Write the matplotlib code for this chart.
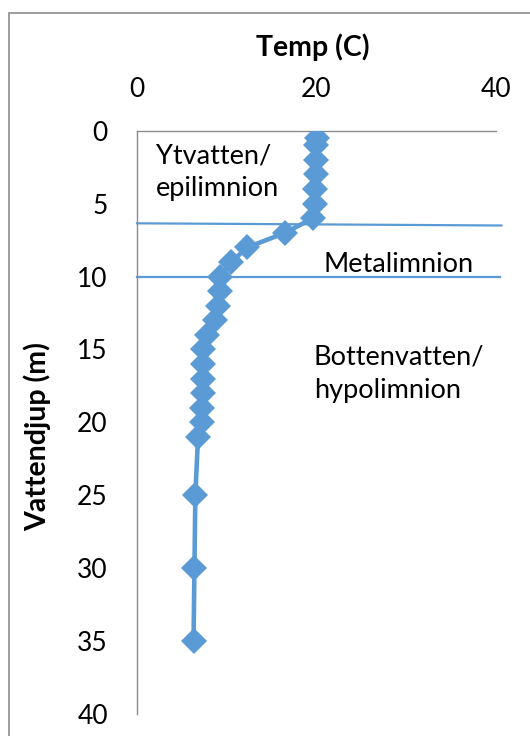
import matplotlib
matplotlib.use("Agg")
import matplotlib.pyplot as plt
from matplotlib.patches import Rectangle

plt.rcParams["font.family"] = ["Lato", "DejaVu Sans"]

# Temperature profile (depth in m, temperature in C)
depth = [0.5, 1, 2, 3, 4, 5, 6, 7, 8, 9, 10, 11, 12, 13, 14, 15, 16, 17, 18,
         19, 20, 21, 25, 30, 35]
temp = [20.0, 19.9, 19.9, 19.9, 19.8, 19.8, 19.6, 16.5, 12.3, 10.5, 9.2, 9.3,
        9.0, 8.7, 7.8, 7.4, 7.4, 7.3, 7.3, 7.2, 7.2, 6.8, 6.5, 6.4, 6.3]

# Layer boundaries drawn across the plot (start depth, end depth)
upper_boundary = (6.35, 6.5)
lower_boundary = (10.0, 10.0)

xticks = [0, 20, 40]
yticks = [0, 5, 10, 15, 20, 25, 30, 35, 40]

blue = "#5B9BD5"
grey = "#8C8C8C"

fig = plt.figure(figsize=(5.3, 7.36), dpi=100)
ax = fig.add_axes([0.2585, 0.0299, 0.6774, 0.7925])

ax.plot(temp, depth, color=blue, lw=3.3, marker="D", ms=13.5,
        mec=blue, mfc=blue, mew=0, zorder=3)

ax.plot([0, 40.6], upper_boundary, color=blue, lw=1.6, clip_on=False)
ax.plot([0, 40.4], lower_boundary, color=blue, lw=1.6, clip_on=False)

ax.set_xlim(0, 40)
ax.set_ylim(40, 0)
ax.set_xticks(xticks)
ax.set_yticks(yticks)
ax.xaxis.tick_top()
ax.xaxis.set_label_position("top")
ax.tick_params(length=0, labelsize=19, pad=21)

ax.set_xlabel("Temp (C)", fontsize=20.5, fontweight="bold", va="center")
ax.xaxis.set_label_coords(0.49, 1.143)
ax.set_ylabel("Vattendjup (m)", fontsize=20.5, fontweight="bold", va="center")
ax.yaxis.set_label_coords(-0.277, 0.475)

for side in ["right", "bottom"]:
    ax.spines[side].set_visible(False)
for side in ["left", "top"]:
    ax.spines[side].set_color(grey)
    ax.spines[side].set_linewidth(1.0)

ax.text(2.1, 2.85, "Ytvatten/\nepilimnion", fontsize=19.5, va="center",
        linespacing=1.4)
ax.text(20.8, 9.2, "Metalimnion", fontsize=19.5, va="center")
ax.text(19.7, 16.65, "Bottenvatten/\nhypolimnion", fontsize=19.5, va="center",
        linespacing=1.4)

# Chart area border
fig.patches.append(Rectangle((9 / 530, -0.1), 1.2, 1.1 - 13 / 736,
                             transform=fig.transFigure, fill=False,
                             edgecolor=grey, lw=1.2))

fig.savefig("out.png", dpi=100)
